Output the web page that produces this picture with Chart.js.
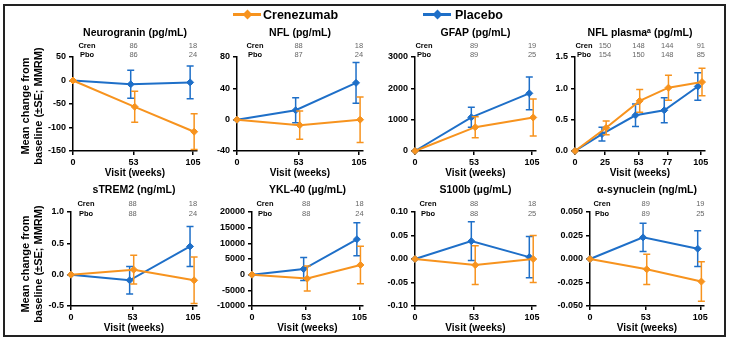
<!DOCTYPE html>
<html>
<head>
<meta charset="utf-8">
<script src="https://cdn.jsdelivr.net/npm/chart.js@4"></script>
<style>
html, body { margin: 0; padding: 0; background: #fff; }
#wrap { position: relative; width: 732px; height: 342px; overflow: hidden; font-family: "Liberation Sans", Arial, sans-serif; }
#frame { position: absolute; left: 3px; top: 4px; width: 723px; height: 333px; border: 2px solid #222; box-sizing: border-box; }
.pane { position: absolute; }
.ytitle { position: absolute; width: 160px; text-align: center; font-weight: bold; font-size: 11px; line-height: 13px; color: #000; transform: translate(-50%, -50%) rotate(-90deg); }
.legline { position: absolute; height: 3px; }
.legdia { position: absolute; width: 7px; height: 7px; transform: rotate(45deg); }
.leg { position: absolute; font-weight: bold; font-size: 12.5px; color: #000; line-height: 14px; }
</style>
</head>
<body>
<div id="wrap">
  <div id="frame"></div>
  <div id="panes"></div>
  <div class="legline" style="left:233px;top:12.5px;width:28px;background:#F7931E"></div>
  <div class="legdia" style="left:243.5px;top:10.5px;background:#F7931E"></div>
  <div class="leg" style="left:263px;top:7.5px">Crenezumab</div>
  <div class="legline" style="left:423px;top:12.5px;width:28px;background:#1E6FC8"></div>
  <div class="legdia" style="left:433.5px;top:10.5px;background:#1E6FC8"></div>
  <div class="leg" style="left:455px;top:7.5px">Placebo</div>
  <div class="ytitle" style="left:31.5px;top:106px">Mean change from<br>baseline (±SE; MMRM)</div>
  <div class="ytitle" style="left:31.5px;top:264px">Mean change from<br>baseline (±SE; MMRM)</div>
</div>
<script>
// visit weeks
const weeks = [0, 53, 105];
const weeksPlasma = [0, 25, 53, 77, 105];

// values (mean change, SE)
const neurogranCren = [0, -56, -109], neurogranCrenSE = [0, 33, 38];
const neurogranPbo = [0, -8, -4], neurogranPboSE = [0, 30, 35];
const nflCren = [0, -7, 0], nflCrenSE = [0, 18, 29];
const nflPbo = [0, 12, 47], nflPboSE = [0, 16, 26];
const gfapCren = [0, 760, 1070], gfapCrenSE = [0, 335, 590];
const gfapPbo = [0, 1075, 1840], gfapPboSE = [0, 320, 520];
const plasmaCren = [0, 0.37, 0.80, 1.01, 1.10], plasmaCrenSE = [0, 0.11, 0.18, 0.20, 0.22];
const plasmaPbo = [0, 0.27, 0.57, 0.65, 1.03], plasmaPboSE = [0, 0.11, 0.18, 0.20, 0.22];
const strem2Cren = [0, 0.08, -0.09], strem2CrenSE = [0, 0.23, 0.37];
const strem2Pbo = [0, -0.09, 0.45], strem2PboSE = [0, 0.22, 0.32];
const yklCren = [0, -1250, 3100], yklCrenSE = [0, 4000, 6000];
const yklPbo = [0, 1800, 11300], yklPboSE = [0, 3700, 5300];
const s100Cren = [0, -0.013, 0.0], s100CrenSE = [0, 0.041, 0.05];
const s100Pbo = [0, 0.038, 0.004], s100PboSE = [0, 0.041, 0.044];
const asynCren = [0, -0.011, -0.024], asynCrenSE = [0, 0.016, 0.021];
const asynPbo = [0, 0.023, 0.011], asynPboSE = [0, 0.015, 0.019];

// patients at each visit
const nNeurogranCren = ['', '86', '18'], nNeurogranPbo = ['', '86', '24'];
const nNflCren = ['', '88', '18'], nNflPbo = ['', '87', '24'];
const nGfapCren = ['', '89', '19'], nGfapPbo = ['', '89', '25'];
const nPlasmaCren = ['', '150', '148', '144', '91'], nPlasmaPbo = ['', '154', '150', '148', '85'];
const nStrem2Cren = ['', '88', '18'], nStrem2Pbo = ['', '88', '24'];
const nYklCren = ['', '88', '18'], nYklPbo = ['', '88', '24'];
const nS100Cren = ['', '88', '18'], nS100Pbo = ['', '88', '25'];
const nAsynCren = ['', '89', '19'], nAsynPbo = ['', '89', '25'];

const titles = ['Neurogranin (pg/mL)', 'NFL (pg/mL)', 'GFAP (pg/mL)', 'NFL plasma\u1d43 (pg/mL)',
                'sTREM2 (ng/mL)', 'YKL-40 (\u00b5g/mL)', 'S100b (\u00b5g/mL)', '\u03b1-synuclein (ng/mL)'];

const ORANGE = '#F7931E', BLUE = '#1E6FC8';

const panels = [
  {x: weeks, cren: neurogranCren, crenSE: neurogranCrenSE, pbo: neurogranPbo, pboSE: neurogranPboSE, nc: nNeurogranCren, np: nNeurogranPbo, min: -150, max: 50, step: 50, dec: 0},
  {x: weeks, cren: nflCren, crenSE: nflCrenSE, pbo: nflPbo, pboSE: nflPboSE, nc: nNflCren, np: nNflPbo, min: -40, max: 80, step: 40, dec: 0},
  {x: weeks, cren: gfapCren, crenSE: gfapCrenSE, pbo: gfapPbo, pboSE: gfapPboSE, nc: nGfapCren, np: nGfapPbo, min: 0, max: 3000, step: 1000, dec: 0},
  {x: weeksPlasma, cren: plasmaCren, crenSE: plasmaCrenSE, pbo: plasmaPbo, pboSE: plasmaPboSE, nc: nPlasmaCren, np: nPlasmaPbo, min: 0, max: 1.5, step: 0.5, dec: 1},
  {x: weeks, cren: strem2Cren, crenSE: strem2CrenSE, pbo: strem2Pbo, pboSE: strem2PboSE, nc: nStrem2Cren, np: nStrem2Pbo, min: -0.5, max: 1.0, step: 0.5, dec: 1},
  {x: weeks, cren: yklCren, crenSE: yklCrenSE, pbo: yklPbo, pboSE: yklPboSE, nc: nYklCren, np: nYklPbo, min: -10000, max: 20000, step: 5000, dec: 0},
  {x: weeks, cren: s100Cren, crenSE: s100CrenSE, pbo: s100Pbo, pboSE: s100PboSE, nc: nS100Cren, np: nS100Pbo, min: -0.10, max: 0.10, step: 0.05, dec: 2},
  {x: weeks, cren: asynCren, crenSE: asynCrenSE, pbo: asynPbo, pboSE: asynPboSE, nc: nAsynCren, np: nAsynPbo, min: -0.05, max: 0.05, step: 0.025, dec: 3}
];

// where each plot area sits on the page: y-axis x, x of week 105, top, bottom, label column centre
const boxes = [
  {L: 73, X: 193, T: 57, B: 151, lab: 87, row: 0},
  {L: 237, X: 359, T: 57, B: 151, lab: 255, row: 0},
  {L: 415, X: 532, T: 57, B: 151, lab: 424, row: 0},
  {L: 575, X: 701, T: 57, B: 151, lab: 584, row: 0},
  {L: 71, X: 193, T: 212, B: 306, lab: 86, row: 1},
  {L: 252, X: 359, T: 212, B: 306, lab: 265, row: 1},
  {L: 415, X: 532, T: 212, B: 306, lab: 428, row: 1},
  {L: 590, X: 700, T: 212, B: 306, lab: 602, row: 1}
];

const yW = 50, xH = 30, padTop = 34, padR = 14, xMax = 108.5;
const DODGE_PBO = -2.5, DODGE_CREN = 1;

Chart.defaults.font.family = '"Liberation Sans", Arial, sans-serif';

const errorBars = {
  id: 'errorBars',
  beforeDatasetDraw(chart, args) {
    const ds = chart.data.datasets[args.index];
    const y = chart.scales.y, a = chart.chartArea, ctx = chart.ctx;
    ctx.save();
    ctx.beginPath();
    ctx.rect(a.left, a.top - 3, a.right - a.left + 6, a.bottom - a.top + 3);
    ctx.clip();
    ctx.strokeStyle = ds.borderColor;
    ctx.lineWidth = 1.5;
    args.meta.data.forEach((pt, i) => {
      const e = ds.errors[i];
      if (!e) return;
      const v = ds.data[i].y;
      const y1 = y.getPixelForValue(v + e), y2 = y.getPixelForValue(v - e);
      ctx.beginPath();
      ctx.moveTo(pt.x, y1); ctx.lineTo(pt.x, y2);
      ctx.moveTo(pt.x - 3.5, y1); ctx.lineTo(pt.x + 3.5, y1);
      ctx.moveTo(pt.x - 3.5, y2); ctx.lineTo(pt.x + 3.5, y2);
      ctx.stroke();
    });
    ctx.restore();
  }
};

const headers = {
  id: 'headers',
  afterDraw(chart, args, o) {
    const {ctx, chartArea: a, scales: {x}} = chart;
    const off = o.row === 0 ? [24, 11, 2] : [22, 8, -2];
    ctx.save();
    ctx.textAlign = 'center';
    ctx.textBaseline = 'middle';
    ctx.fillStyle = '#000';
    ctx.font = 'bold 10.5px "Liberation Sans", Arial, sans-serif';
    ctx.fillText(o.title, (a.left + a.right) / 2, a.top - off[0]);
    ctx.font = 'bold 7.5px "Liberation Sans", Arial, sans-serif';
    ctx.fillText('Cren', a.left + o.labDx, a.top - off[1]);
    ctx.fillText('Pbo', a.left + o.labDx, a.top - off[2]);
    ctx.fillStyle = '#666';
    ctx.font = '7.5px "Liberation Sans", Arial, sans-serif';
    o.xs.forEach((w, i) => {
      const px = x.getPixelForValue(w);
      if (o.nc[i]) ctx.fillText(o.nc[i], px, a.top - off[1]);
      if (o.np[i]) ctx.fillText(o.np[i], px, a.top - off[2]);
    });
    ctx.restore();
  }
};

const host = document.getElementById('panes');

panels.forEach((p, i) => {
  const b = boxes[i];
  const pxpw = (b.X - b.L) / 105;
  const w = Math.round(yW + pxpw * xMax + padR);
  const h = padTop + (b.B - b.T) + xH;
  const div = document.createElement('div');
  div.className = 'pane';
  div.style.left = (b.L - yW) + 'px';
  div.style.top = (b.T - padTop) + 'px';
  const cv = document.createElement('canvas');
  cv.width = w; cv.height = h;
  cv.style.width = w + 'px'; cv.style.height = h + 'px';
  div.appendChild(cv);
  host.appendChild(div);

  const pts = (vals, dodge) => vals.map((v, k) => ({x: p.x[k] + (p.x[k] > 0 ? dodge : 0), y: v}));
  const line = (label, vals, se, color, dodge) => ({
    label: label,
    data: pts(vals, dodge),
    errors: se,
    borderColor: color,
    backgroundColor: color,
    borderWidth: 2,
    tension: 0,
    pointStyle: 'rectRot',
    pointRadius: 3.5,
    pointBorderWidth: 1,
    clip: false
  });

  new Chart(cv, {
    type: 'line',
    data: {
      datasets: [
        line('Crenezumab', p.cren, p.crenSE, ORANGE, DODGE_CREN),
        line('Placebo', p.pbo, p.pboSE, BLUE, DODGE_PBO)
      ]
    },
    options: {
      responsive: false,
      animation: false,
      events: [],
      layout: {padding: {top: padTop, right: padR, left: 0, bottom: 0}},
      plugins: {
        legend: {display: false},
        tooltip: {enabled: false},
        headers: {title: titles[i], labDx: b.lab - b.L, row: b.row, xs: p.x, nc: p.nc, np: p.np}
      },
      scales: {
        x: {
          type: 'linear', min: 0, max: xMax,
          afterBuildTicks: s => { s.ticks = p.x.map(v => ({value: v})); },
          afterFit: s => { s.height = xH; },
          grid: {drawOnChartArea: false, color: '#000', lineWidth: 1.5, tickLength: 4},
          border: {color: '#000', width: 1.5},
          ticks: {color: '#000', font: {size: 9, weight: 'bold'}, padding: 2, maxRotation: 0, autoSkip: false, callback: v => String(v)},
          title: {display: true, text: 'Visit (weeks)', color: '#000', font: {size: 10, weight: 'bold'}, padding: {top: 0, bottom: 2}}
        },
        y: {
          min: p.min, max: p.max,
          afterFit: s => { s.width = yW; },
          grid: {drawOnChartArea: false, color: '#000', lineWidth: 1.5, tickLength: 4},
          border: {color: '#000', width: 1.5},
          ticks: {stepSize: p.step, color: '#000', font: {size: 9, weight: 'bold'}, padding: 3, callback: v => Number(v).toFixed(p.dec)}
        }
      }
    },
    plugins: [errorBars, headers]
  });
});
</script>
</body>
</html>
